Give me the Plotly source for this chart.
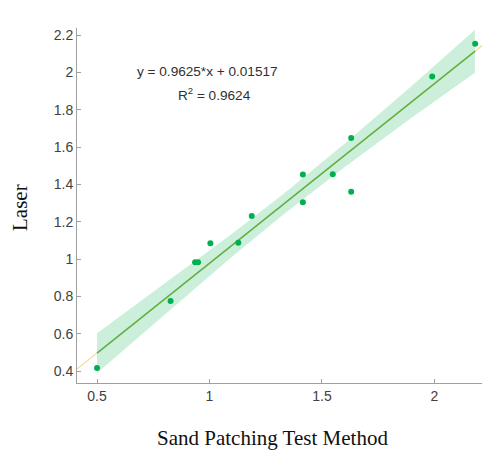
import plotly.graph_objects as go

# Data points
sand = [0.50, 0.827, 0.936, 0.949, 1.004, 1.128, 1.188, 1.415, 1.415, 1.548, 1.63, 1.63, 1.99, 2.181]
laser = [0.416, 0.775, 0.983, 0.983, 1.085, 1.088, 1.231, 1.453, 1.304, 1.454, 1.648, 1.36, 1.978, 2.153]

# Fit coefficients (from the annotation)
slope = 0.9625
intercept = 0.01517

# Confidence band edges
band_x = [0.5, 0.8, 1.1, 1.33, 1.6, 1.9, 2.18]
band_upper = [0.603, 0.867, 1.135, 1.350, 1.618, 1.929, 2.228]
band_lower = [0.390, 0.704, 1.013, 1.240, 1.492, 1.759, 1.998]

x_range = [0.411, 2.247]
y_range = [0.336, 2.238]
fit_x = [min(sand), max(sand)]
ext_x = x_range

xticks = [0.5, 1, 1.5, 2]
yticks = [0.4, 0.6, 0.8, 1, 1.2, 1.4, 1.6, 1.8, 2, 2.2]
ytick_text = ["0.4", "0.6", "0.8", "1", "1.2", "1.4", "1.6", "1.8", "2", "2.2"]

fig = go.Figure()
fig.add_trace(go.Scatter(x=band_x + band_x[::-1], y=band_upper + band_lower[::-1],
                         fill="toself", fillcolor="rgba(160,225,190,0.55)",
                         line=dict(width=0), mode="lines", hoverinfo="skip"))
fig.add_trace(go.Scatter(x=ext_x, y=[slope * v + intercept for v in ext_x], mode="lines",
                         line=dict(color="#f7d9a0", width=1.2)))
fig.add_trace(go.Scatter(x=fit_x, y=[slope * v + intercept for v in fit_x], mode="lines",
                         line=dict(color="#5db043", width=1.5)))
fig.add_trace(go.Scatter(x=sand, y=laser, mode="markers",
                         marker=dict(color="#00b050", size=6)))

axis_common = dict(showgrid=False, zeroline=False, showline=True, linecolor="#a0a0a0",
                   linewidth=1, ticks="inside", ticklen=4, tickcolor="#a0a0a0",
                   tickfont=dict(family="Liberation Sans, Arial", size=14, color="#404040"))
fig.update_xaxes(range=x_range, tickvals=xticks, ticktext=["0.5", "1", "1.5", "2"], **axis_common)
fig.update_yaxes(range=y_range, tickvals=yticks, ticktext=ytick_text, **axis_common)

fig.update_layout(
    width=482, height=444, showlegend=False,
    plot_bgcolor="white", paper_bgcolor="white",
    margin=dict(l=69, r=0, t=20, b=69),
    annotations=[
        dict(text="y = 0.9625*x + 0.01517", x=(207 - 77) / 413, y=(383 - 72) / 355,
             xref="paper", yref="paper", showarrow=False, xanchor="center", yanchor="middle",
             font=dict(family="Liberation Sans, Arial", size=13.6, color="#303030")),
        dict(text="R<sup>2</sup> = 0.9624", x=(214 - 77) / 413, y=(383 - 94) / 355,
             xref="paper", yref="paper", showarrow=False, xanchor="center", yanchor="middle",
             font=dict(family="Liberation Sans, Arial", size=13.6, color="#303030")),
        dict(text="Sand Patching Test Method", x=(272 - 77) / 413, y=-(438 - 383) / 355,
             xref="paper", yref="paper", showarrow=False, xanchor="center", yanchor="middle",
             font=dict(family="Liberation Serif, Times New Roman", size=21, color="#111111")),
        dict(text="Laser", x=-(77 - 20) / 413, y=(383 - 208) / 355, textangle=-90,
             xref="paper", yref="paper", showarrow=False, xanchor="center", yanchor="middle",
             font=dict(family="Liberation Serif, Times New Roman", size=21, color="#111111")),
    ],
)

fig.write_html("out.html")
